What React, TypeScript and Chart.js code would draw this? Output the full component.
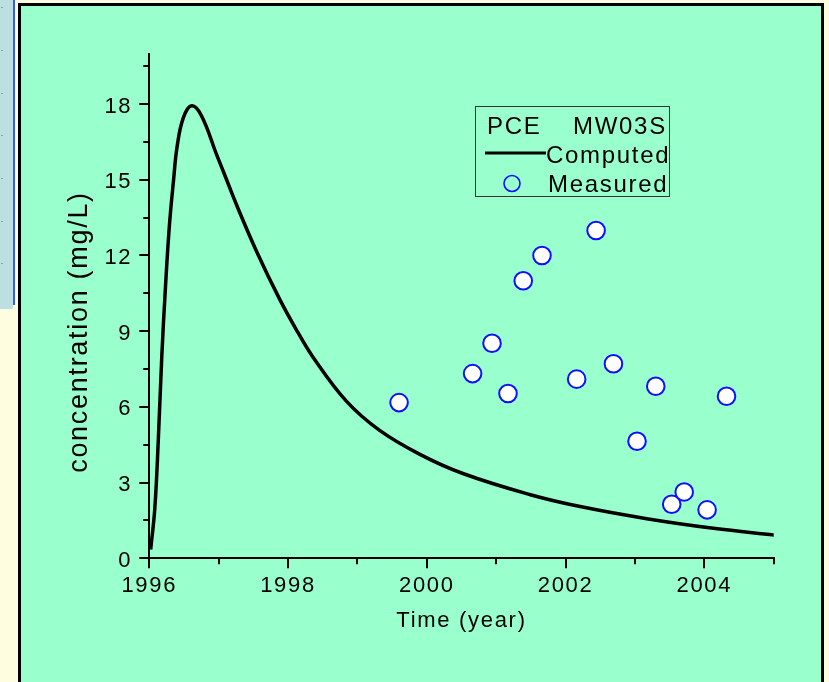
import React, { useEffect, useRef } from 'react';
import { Chart, registerables } from 'chart.js';

Chart.register(...registerables);

// ---- data ----
const computedYears = [
  1996.02, 1996.08, 1996.13, 1996.18, 1996.23, 1996.29, 1996.35, 1996.40, 1996.49,
  1996.61, 1996.75, 1996.97, 1997.10, 1997.26, 1997.55, 1997.88, 1998.14, 1998.36, 1998.84,
  1999.32, 1999.90, 2000.52, 2001.48, 2002.21, 2003.17, 2004.13, 2005.02,
];
const computedConc = [
  0.35, 2.0, 4.7, 8.0, 10.6, 13.2, 15.0, 16.3, 17.45,
  17.93, 17.55, 16.0, 15.1, 13.99, 12.14, 10.26, 8.96, 7.97, 6.23,
  5.07, 4.12, 3.36, 2.53, 2.05, 1.57, 1.19, 0.92,
];
const measuredYears = [
  1999.60, 2000.66, 2000.94, 2001.17, 2001.39, 2001.66, 2002.16, 2002.44,
  2002.69, 2003.03, 2003.30, 2003.53, 2003.71, 2004.04, 2004.32,
];
const measuredConc = [
  6.17, 7.32, 8.52, 6.53, 11.0, 12.0, 7.10, 12.99,
  7.71, 4.64, 6.82, 2.14, 2.63, 1.92, 6.42,
];
const xTickYears = [1996, 1998, 2000, 2002, 2004];
const xMinorYears = [1997, 1999, 2001, 2003, 2005];
const yTickValues = [0, 3, 6, 9, 12, 15, 18];
const yMinorValues = [1.5, 4.5, 7.5, 10.5, 13.5, 16.5, 19.5];
const xAxisTitle = 'Time (year)';
const yAxisTitle = 'concentration (mg/L)';
const legendTitleLeft = 'PCE';
const legendTitleRight = 'MW03S';
const computedLabel = 'Computed';
const measuredLabel = 'Measured';

const FONT = '"Liberation Sans", Arial, sans-serif';
const LS = '1.7px';
const BLUE = '#1010ff';

const setLS = (c: any) => {
  try { c.ctx.letterSpacing = LS; } catch (e) { /* ignore */ }
};

const decorPlugin = {
  id: 'decor',
  beforeUpdate(c: any) { setLS(c); },
  beforeLayout(c: any) { setLS(c); },
  beforeDraw(c: any) { setLS(c); },
  afterDraw(c: any) {
    const ctx = c.ctx;
    const xs = c.scales.x;
    const ys = c.scales.y;
    const a = c.chartArea;
    ctx.save();
    ctx.strokeStyle = '#000';
    ctx.lineWidth = 2;
    xMinorYears.forEach((v) => {
      const px = Math.round(xs.getPixelForValue(v));
      ctx.beginPath();
      ctx.moveTo(px, a.bottom);
      ctx.lineTo(px, a.bottom + 6);
      ctx.stroke();
    });
    yMinorValues.forEach((v) => {
      const py = Math.round(ys.getPixelForValue(v));
      ctx.beginPath();
      ctx.moveTo(a.left, py);
      ctx.lineTo(a.left - 6, py);
      ctx.stroke();
    });
    ctx.restore();

    // y axis title
    ctx.save();
    ctx.letterSpacing = LS;
    ctx.font = `27px ${FONT}`;
    ctx.fillStyle = '#000';
    ctx.translate(80, 332);
    ctx.rotate(-Math.PI / 2);
    ctx.textAlign = 'center';
    ctx.textBaseline = 'middle';
    ctx.fillText(yAxisTitle, 0, 0);
    ctx.restore();

    // legend
    ctx.save();
    ctx.letterSpacing = LS;
    ctx.strokeStyle = '#333';
    ctx.lineWidth = 1;
    ctx.strokeRect(475.5, 106.5, 194, 90);
    ctx.font = `24px ${FONT}`;
    ctx.fillStyle = '#000';
    ctx.textAlign = 'left';
    ctx.textBaseline = 'alphabetic';
    ctx.fillText(legendTitleLeft, 487, 133.5);
    ctx.fillText(legendTitleRight, 573, 133.5);
    ctx.beginPath();
    ctx.lineWidth = 3;
    ctx.strokeStyle = '#000';
    ctx.moveTo(485, 153);
    ctx.lineTo(546, 153);
    ctx.stroke();
    ctx.fillText(computedLabel, 546, 162.5);
    ctx.beginPath();
    ctx.lineWidth = 1.6;
    ctx.strokeStyle = BLUE;
    ctx.arc(512, 183.5, 8, 0, Math.PI * 2);
    ctx.stroke();
    ctx.fillText(measuredLabel, 548, 191.5);
    ctx.restore();
  },
};

export default function App() {
  const ref = useRef<HTMLCanvasElement | null>(null);

  useEffect(() => {
    if (!ref.current) return;
    Chart.defaults.font.family = FONT;
    Chart.defaults.color = '#000';
    const chart = new Chart(ref.current, {
      type: 'scatter',
      data: {
        datasets: [
          {
            label: computedLabel,
            data: computedYears.map((x, i) => ({ x, y: computedConc[i] })),
            showLine: true,
            borderColor: '#000',
            borderWidth: 3.5,
            pointRadius: 0,
            tension: 0.4,
            fill: false,
          } as any,
          {
            label: measuredLabel,
            data: measuredYears.map((x, i) => ({ x, y: measuredConc[i] })),
            showLine: false,
            pointRadius: 8.8,
            pointBorderWidth: 2,
            pointBorderColor: BLUE,
            pointBackgroundColor: '#ffffff',
          } as any,
        ],
      },
      options: {
        responsive: false,
        animation: false,
        devicePixelRatio: 1,
        layout: { padding: { left: 0, right: 55.3, top: 53.6, bottom: 0 } },
        plugins: { legend: { display: false }, tooltip: { enabled: false } },
        scales: {
          x: {
            type: 'linear',
            min: 1996,
            max: 2005,
            afterBuildTicks: (s: any) => { s.ticks = xTickYears.map((v) => ({ value: v })); },
            afterFit: (s: any) => { s.height = 123.7; },
            ticks: {
              font: { size: 22 },
              color: '#000',
              padding: 4,
              maxRotation: 0,
              callback: (v: any) => String(v),
            },
            grid: {
              drawOnChartArea: false,
              drawTicks: true,
              tickLength: 10,
              tickWidth: 2,
              tickColor: '#000',
              color: '#000',
              lineWidth: 2,
            },
            border: { display: true, color: '#000', width: 2 },
            title: {
              display: true,
              text: xAxisTitle,
              font: { size: 22 },
              color: '#000',
              padding: { top: 0, bottom: 48 },
            },
          },
          y: {
            type: 'linear',
            min: 0,
            max: 20,
            afterBuildTicks: (s: any) => { s.ticks = yTickValues.map((v) => ({ value: v })); },
            afterFit: (s: any) => { s.width = 149.3; },
            ticks: {
              font: { size: 22 },
              color: '#000',
              padding: 7,
              labelOffset: 2.5,
              callback: (v: any) => String(v),
            },
            grid: {
              drawOnChartArea: false,
              drawTicks: true,
              tickLength: 10,
              tickWidth: 2,
              tickColor: '#000',
              color: '#000',
              lineWidth: 2,
            },
            border: { display: true, color: '#000', width: 2 },
          },
        },
      } as any,
      plugins: [decorPlugin],
    });
    return () => chart.destroy();
  }, []);

  const dots = [7, 50, 93, 135, 178, 221, 263];

  return (
    <div style={{ position: 'fixed', left: 0, top: 0, width: 829, height: 682, overflow: 'hidden', background: '#fffde0' }}>
      <div style={{ position: 'absolute', left: 0, top: 0, width: 13, height: 309, background: '#bcdfe2' }} />
      {dots.map((d) => (
        <div key={d} style={{ position: 'absolute', left: 1, top: d, width: 2, height: 1, background: '#8aa9b0' }} />
      ))}
      <div style={{ position: 'absolute', left: 13, top: 0, width: 2, height: 305, background: '#3a5be8' }} />
      <div
        style={{
          position: 'absolute',
          left: 18,
          top: 3,
          width: 806,
          height: 720,
          boxSizing: 'border-box',
          background: '#99ffcc',
          border: '3.5px solid #000',
        }}
      />
      <canvas
        ref={ref}
        width={829}
        height={682}
        style={{ position: 'absolute', left: 0, top: 0, width: 829, height: 682 }}
      />
    </div>
  );
}
